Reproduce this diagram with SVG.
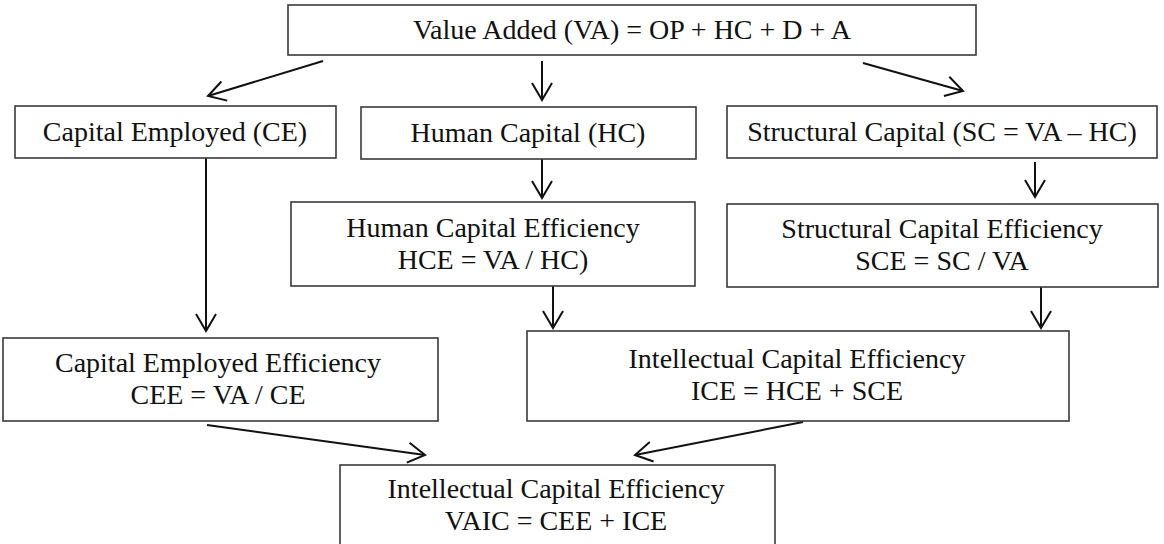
<svg xmlns="http://www.w3.org/2000/svg" width="1164" height="544" viewBox="0 0 1164 544">
<defs>
<style>
.box{fill:#fff;stroke:#3a3a3a;stroke-width:1.6}
.t{font-family:"Liberation Serif","Times New Roman",serif;font-size:28px;fill:#111;text-anchor:middle}
.c{fill:none;stroke:#111;stroke-width:2}
</style>
<marker id="ah" markerUnits="userSpaceOnUse" markerWidth="40" markerHeight="40" viewBox="-20 -20 40 40" refX="0" refY="0" orient="auto">
<path d="M-17,-10 L0,0 L-17,10" fill="none" stroke="#111" stroke-width="2"/>
</marker>
</defs>
<rect width="1164" height="544" fill="#fff"/>
<g id="connectors">
<line class="c" x1="323" y1="61" x2="208" y2="96" marker-end="url(#ah)"/>
<line class="c" x1="542" y1="61" x2="542" y2="100" marker-end="url(#ah)"/>
<line class="c" x1="863" y1="63" x2="963" y2="91" marker-end="url(#ah)"/>
<line class="c" x1="542" y1="159" x2="542" y2="198" marker-end="url(#ah)"/>
<line class="c" x1="1035" y1="162" x2="1035" y2="197" marker-end="url(#ah)"/>
<line class="c" x1="206" y1="158" x2="206" y2="331" marker-end="url(#ah)"/>
<line class="c" x1="553" y1="286" x2="553" y2="328" marker-end="url(#ah)"/>
<line class="c" x1="1041" y1="287" x2="1041" y2="328" marker-end="url(#ah)"/>
<line class="c" x1="207" y1="425" x2="425" y2="455" marker-end="url(#ah)"/>
<line class="c" x1="803" y1="422" x2="635" y2="455" marker-end="url(#ah)"/>
</g>
<g id="node-va">
<rect class="box" x="288" y="5" width="688" height="50"/>
<text class="t" x="632" y="39">Value Added (VA) = OP + HC + D + A</text>
</g>
<g id="node-ce">
<rect class="box" x="15" y="106" width="321" height="52"/>
<text class="t" x="175" y="141">Capital Employed (CE)</text>
</g>
<g id="node-hc">
<rect class="box" x="361" y="107" width="335" height="52"/>
<text class="t" x="528" y="142">Human Capital (HC)</text>
</g>
<g id="node-sc">
<rect class="box" x="727" y="106" width="430" height="52"/>
<text class="t" x="942" y="141">Structural Capital (SC = VA – HC)</text>
</g>
<g id="node-hce">
<rect class="box" x="291" y="202" width="404" height="84"/>
<text class="t" x="493" y="237">Human Capital Efficiency</text>
<text class="t" x="493" y="269">HCE = VA / HC)</text>
</g>
<g id="node-sce">
<rect class="box" x="727" y="204" width="431" height="83"/>
<text class="t" x="942" y="238">Structural Capital Efficiency</text>
<text class="t" x="942" y="270">SCE = SC / VA</text>
</g>
<g id="node-cee">
<rect class="box" x="3" y="338" width="435" height="83"/>
<text class="t" x="218" y="372">Capital Employed Efficiency</text>
<text class="t" x="218" y="404">CEE = VA / CE</text>
</g>
<g id="node-ice">
<rect class="box" x="527" y="331" width="542" height="90"/>
<text class="t" x="797" y="368">Intellectual Capital Efficiency</text>
<text class="t" x="797" y="400">ICE = HCE + SCE</text>
</g>
<g id="node-vaic">
<rect class="box" x="340" y="465" width="435" height="83"/>
<text class="t" x="556" y="498">Intellectual Capital Efficiency</text>
<text class="t" x="556" y="530">VAIC = CEE + ICE</text>
</g>
</svg>
